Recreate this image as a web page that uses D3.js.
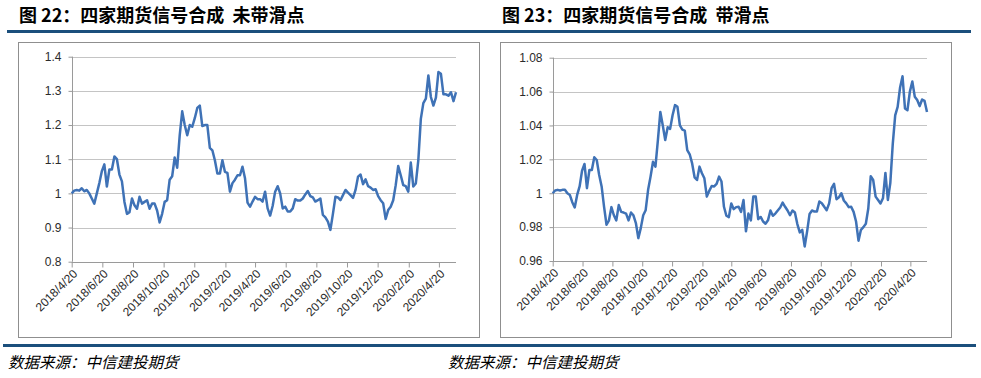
<!DOCTYPE html>
<html>
<head>
<meta charset="utf-8">
<script src="https://cdn.jsdelivr.net/npm/d3@7"></script>
<style>
    body { margin: 0; background: #fff; }
    svg text { font-family: "Liberation Sans", Arial, sans-serif; }
</style>
</head>
<body>
<svg id="chart" width="981" height="378"></svg>
<script>
// series start and sampling step (calendar days between points)
const startDay = "2018-04-20";
const stepDays = 5;

const tickLabels = ["2018/4/20", "2018/6/20", "2018/8/20", "2018/10/20", "2018/12/20", "2019/2/20",
    "2019/4/20", "2019/6/20", "2019/8/20", "2019/10/20", "2019/12/20", "2020/2/20", "2020/4/20"];

const titles = ["图 22：四家期货信号合成  未带滑点", "图 23：四家期货信号合成  带滑点"];
const sourceText = "数据来源：中信建投期货";

const yTicks22 = [0.8, 0.9, 1, 1.1, 1.2, 1.3, 1.4];
const yTicks23 = [0.96, 0.98, 1, 1.02, 1.04, 1.06, 1.08];

// 未带滑点
const values22 = [1.00, 1.008, 1.01, 1.008, 1.015, 1.006, 1.01, 1.0, 0.985, 0.97,
    1.0, 1.03, 1.065, 1.085, 1.02, 1.07, 1.07, 1.108, 1.1, 1.055,
    1.035, 0.975, 0.94, 0.945, 0.985, 0.965, 0.955, 0.99, 0.97, 0.975,
    0.98, 0.955, 0.97, 0.97, 0.95, 0.915, 0.94, 0.975, 0.98, 1.04,
    1.05, 1.105, 1.075, 1.17, 1.24, 1.2, 1.17, 1.2, 1.195, 1.22,
    1.25, 1.257, 1.197, 1.2, 1.2, 1.133, 1.126, 1.097, 1.058, 1.058,
    1.097, 1.063, 1.06, 1.005, 1.03, 1.04, 1.053, 1.053, 1.078, 1.044,
    0.973, 0.961, 0.976, 0.99, 0.983, 0.983, 0.976, 1.005, 0.956, 0.935,
    0.963, 1.005, 1.021, 1.0, 0.956, 0.961, 0.947, 0.947, 0.956, 0.983,
    0.979, 0.979, 0.985, 0.997, 1.007, 0.992, 0.988, 0.976, 0.98, 0.985,
    0.937, 0.93, 0.917, 0.893, 0.94, 0.99, 0.988, 0.98, 0.995, 1.01,
    1.002, 0.995, 0.987, 1.01, 1.049, 1.055, 1.027, 1.041, 1.021, 1.017,
    1.01, 1.012, 0.992, 0.98, 0.971, 0.925, 0.951, 0.961, 0.98, 1.024,
    1.08, 1.053, 1.024, 1.021, 1.005, 1.09, 1.02, 1.029, 1.097, 1.218,
    1.264, 1.277, 1.345, 1.282, 1.257, 1.28, 1.355, 1.35, 1.29, 1.29,
    1.286, 1.296, 1.27, 1.296];

// 带滑点
const values23 = [1.0, 1.0016, 1.002, 1.0016, 1.002, 1.002, 1.0, 0.999, 0.9947, 0.9916,
    0.999, 1.004, 1.0133, 1.0173, 1.003, 1.0137, 1.0137, 1.0212, 1.0196, 1.0108,
    1.004, 0.992, 0.9814, 0.984, 0.9918, 0.987, 0.984, 0.993, 0.989, 0.9886,
    0.988, 0.984, 0.9886, 0.987, 0.9824, 0.9735, 0.9794, 0.987, 0.990, 1.002,
    1.0098, 1.0186, 1.0157, 1.0314, 1.048, 1.040, 1.0314, 1.039, 1.038, 1.046,
    1.052, 1.051, 1.040, 1.0376, 1.037, 1.0255, 1.023, 1.0176, 1.0094, 1.0078,
    1.0157, 1.0118, 1.0088, 0.998, 1.0014, 1.0043, 1.004, 1.0055, 1.0098, 1.0069,
    0.992, 0.9867, 0.9859, 0.994, 0.9906, 0.9918, 0.992, 0.989, 0.996, 0.9775,
    0.988, 0.984, 0.998, 0.998, 0.9847, 0.986, 0.9833, 0.982, 0.984, 0.9898,
    0.9867, 0.988, 0.9898, 0.9916, 0.9945, 0.992, 0.9898, 0.987, 0.9898, 0.9886,
    0.9818, 0.9769, 0.9784, 0.9686, 0.9775, 0.9878, 0.9898, 0.9892, 0.9892, 0.9951,
    0.9941, 0.992, 0.990, 0.994, 1.003, 1.0055, 0.9965, 0.9976, 1.0, 0.9957,
    0.994, 0.9918, 0.992, 0.989, 0.9833, 0.972, 0.9784, 0.980, 0.982, 0.991,
    1.01, 1.0078, 0.998, 0.996, 0.994, 0.997, 1.012, 0.996, 1.006, 1.029,
    1.046, 1.051, 1.0624, 1.069, 1.05, 1.049, 1.06, 1.066, 1.057, 1.055,
    1.0514, 1.0553, 1.0545, 1.048];

const svg = d3.select('#chart');
const ctx = {
    BLUE_BAR: "#1b4f7c",
    LINE_COLOR: "#3f72b6",
    GRID_COLOR: "#c4c4c4",
    AXIS_COLOR: "#9a9a9a",
    LABEL_COLOR: "#2b2b2b",
    TICK_FONT: "12px",
};

const parseDay = d3.timeParse("%Y-%m-%d");
const parseTick = d3.timeParse("%Y/%m/%d");

main();

function main() {
    // header + footer rules
    svg.append("rect").attr("x", 7).attr("y", 30).attr("width", 964).attr("height", 3).attr("fill", ctx.BLUE_BAR);
    svg.append("rect").attr("x", 3).attr("y", 344).attr("width", 973).attr("height", 3).attr("fill", ctx.BLUE_BAR);

    drawPanel({
        title: titles[0], titleX: 19, sourceX: 8,
        box: { x: 18.5, y: 42.5, w: 461, h: 295 },
        plot: { left: 71.7, right: 456, top: 56.7, bottom: 261.7 },
        yTicks: yTicks22, values: values22,
    });
    drawPanel({
        title: titles[1], titleX: 502, sourceX: 448,
        box: { x: 500.5, y: 42.5, w: 451, h: 295 },
        plot: { left: 552.7, right: 927, top: 57.7, bottom: 261 },
        yTicks: yTicks23, values: values23,
    });
}

function drawPanel(p) {
    svg.append("text")
        .attr("x", p.titleX).attr("y", 22)
        .attr("xml:space", "preserve")
        .style("white-space", "pre")
        .style("font-family", "'Noto Sans CJK SC', sans-serif")
        .style("font-weight", "bold")
        .style("font-size", "18px")
        .attr("fill", "#000")
        .text(p.title);

    svg.append("text")
        .attr("x", p.sourceX).attr("y", 368)
        .style("font-family", "'Noto Sans CJK SC', sans-serif")
        .style("font-style", "italic")
        .style("font-size", "15.5px")
        .attr("fill", "#000")
        .text(sourceText);

    svg.append("rect")
        .attr("x", p.box.x).attr("y", p.box.y)
        .attr("width", p.box.w).attr("height", p.box.h)
        .attr("fill", "#fff")
        .attr("stroke", "#8f8f8f");

    const start = parseDay(startDay);
    const data = p.values.map((v, i) => ({ date: d3.timeDay.offset(start, i * stepDays), value: v }));
    const ticks = tickLabels.map(parseTick);

    const x = d3.scaleTime()
        .domain([start, data[data.length - 1].date])
        .range([p.plot.left, p.plot.right]);
    const y = d3.scaleLinear()
        .domain([p.yTicks[0], p.yTicks[p.yTicks.length - 1]])
        .range([p.plot.bottom, p.plot.top]);

    // gridlines (skip the bottom one, that's the axis)
    svg.append("g")
        .selectAll("line")
        .data(p.yTicks.slice(1))
        .enter()
        .append("line")
        .attr("x1", p.plot.left).attr("x2", p.plot.right)
        .attr("y1", d => Math.round(y(d)) + 0.5).attr("y2", d => Math.round(y(d)) + 0.5)
        .attr("stroke", ctx.GRID_COLOR);

    const yAxis = svg.append("g")
        .attr("transform", `translate(${Math.round(p.plot.left) + 0.5},0)`)
        .call(d3.axisLeft(y).tickValues(p.yTicks).tickSize(4).tickPadding(7).tickFormat(d => String(d)));
    yAxis.select(".domain").attr("stroke", ctx.AXIS_COLOR).attr("d", `M0,${p.plot.top}V${p.plot.bottom}`);
    yAxis.selectAll(".tick line").attr("stroke", ctx.AXIS_COLOR);
    yAxis.selectAll(".tick text")
        .attr("fill", ctx.LABEL_COLOR)
        .style("font-size", ctx.TICK_FONT);

    const xAxis = svg.append("g")
        .attr("transform", `translate(0,${Math.round(p.plot.bottom) + 0.5})`)
        .call(d3.axisBottom(x).tickValues(ticks).tickSize(5).tickFormat((d, i) => tickLabels[i]));
    xAxis.select(".domain").attr("stroke", ctx.AXIS_COLOR).attr("d", `M${p.plot.left},0H${p.plot.right}`);
    xAxis.selectAll(".tick line").attr("stroke", ctx.AXIS_COLOR);
    xAxis.selectAll(".tick text")
        .attr("fill", ctx.LABEL_COLOR)
        .style("font-size", ctx.TICK_FONT)
        .attr("text-anchor", "end")
        .attr("x", 0).attr("y", 0).attr("dy", "0.35em")
        .attr("transform", "translate(3,9) rotate(-45)");

    const line = d3.line()
        .x(d => x(d.date))
        .y(d => y(d.value));

    svg.append("path")
        .datum(data)
        .attr("fill", "none")
        .attr("stroke", ctx.LINE_COLOR)
        .attr("stroke-width", 2.5)
        .attr("stroke-linejoin", "round")
        .attr("d", line);
}
</script>
</body>
</html>
